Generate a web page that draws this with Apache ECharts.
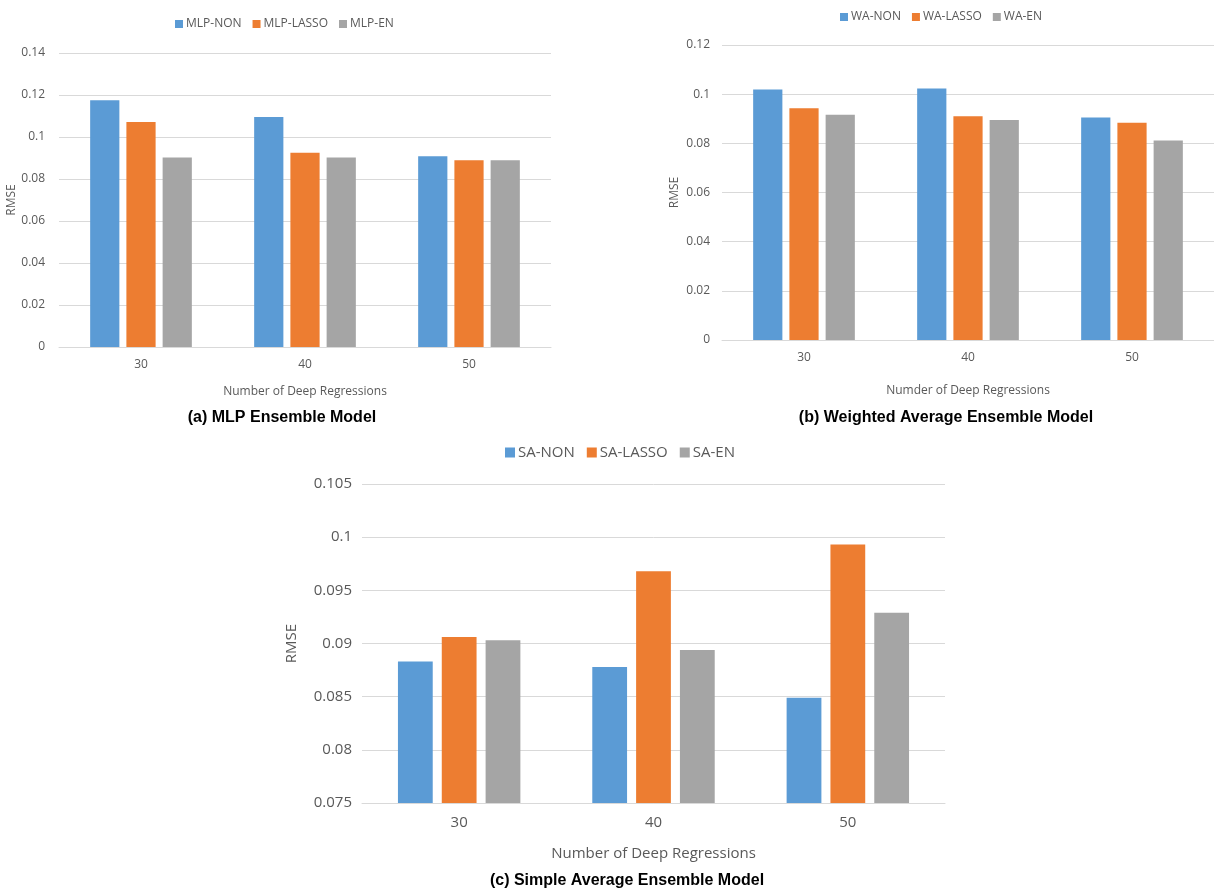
<!DOCTYPE html>
<html>
<head>
<meta charset="utf-8">
<script src="https://cdn.jsdelivr.net/npm/echarts@6/dist/echarts.min.js"></script>
<style>
  html, body { margin: 0; padding: 0; background: #fff; }
  #chart { width: 1214px; height: 893px; }
</style>
</head>
<body>
<div id="chart"></div>
<script>
// Number of deep regressions in the ensemble
const categories = ['30', '40', '50'];

// (a) MLP ensemble RMSE
const mlpNon   = [0.1175, 0.1095, 0.0908];
const mlpLasso = [0.1071, 0.0925, 0.0889];
const mlpEn    = [0.0902, 0.0902, 0.0889];

// (b) Weighted average ensemble RMSE
const waNon   = [0.1019, 0.1023, 0.0905];
const waLasso = [0.0943, 0.0910, 0.0884];
const waEn    = [0.0916, 0.0895, 0.0812];

// (c) Simple average ensemble RMSE
const saNon   = [0.0883, 0.0878, 0.0849];
const saLasso = [0.0906, 0.0968, 0.0993];
const saEn    = [0.0903, 0.0894, 0.0929];

const colors = ['#5B9BD5', '#ED7D31', '#A5A5A5'];
const txt = '#595959';
const grid = '#D9D9D9';
const font = '"Open Sans", sans-serif';
const titleFont = '"Liberation Sans", Arial, sans-serif';

function xAxis(gridIndex, name, size, margin, nameGap) {
  return {
    type: 'category', gridIndex, data: categories,
    axisLine: { lineStyle: { color: grid, width: 1 } },
    axisTick: { show: false },
    axisLabel: { color: txt, fontSize: size, fontFamily: font, margin },
    name, nameLocation: 'middle', nameGap,
    nameTextStyle: { color: txt, fontSize: size, fontFamily: font }
  };
}
function yAxis(gridIndex, min, max, interval, size, margin, nameGap) {
  return {
    type: 'value', gridIndex, min, max, interval,
    axisLine: { show: false }, axisTick: { show: false },
    splitLine: { lineStyle: { color: grid, width: 1 } },
    axisLabel: { color: txt, fontSize: size, fontFamily: font, margin },
    name: 'RMSE', nameLocation: 'middle', nameGap, nameRotate: 90,
    nameTextStyle: { color: txt, fontSize: size, fontFamily: font }
  };
}
function bars(names, data, idx, gap, catGap) {
  return names.map((n, i) => ({
    name: n, type: 'bar', xAxisIndex: idx, yAxisIndex: idx,
    data: data[i], barGap: gap, barCategoryGap: catGap,
    itemStyle: { color: colors[i] }, animation: false
  }));
}
function legend(names, left, top, size, icon, gap) {
  return {
    data: names, left, top, itemWidth: icon, itemHeight: icon, itemGap: gap,
    icon: 'rect',
    textStyle: { color: txt, fontSize: size, fontFamily: font, padding: [0, 0, 0, -2] }
  };
}
function title(text, left, top, size) {
  return {
    text, left, top, textAlign: 'center',
    textStyle: { color: '#000', fontSize: size, fontWeight: 'bold', fontFamily: titleFont }
  };
}

const namesA = ['MLP-NON', 'MLP-LASSO', 'MLP-EN'];
const namesB = ['WA-NON', 'WA-LASSO', 'WA-EN'];
const namesC = ['SA-NON', 'SA-LASSO', 'SA-EN'];

const chart = echarts.init(document.getElementById('chart'));
chart.setOption({
  backgroundColor: '#fff',
  animation: false,
  title: [
    title('(a) MLP Ensemble Model', 277, 405, 16),
    title('(b) Weighted Average Ensemble Model', 941, 405, 16),
    title('(c) Simple Average Ensemble Model', 622, 868, 16)
  ],
  legend: [
    legend(namesA, 170, 13, 12, 8, 11),
    legend(namesB, 835, 6, 12, 8, 11),
    legend(namesC, 500, 440, 15, 10, 12)
  ],
  grid: [
    { left: 59, top: 53, width: 492, height: 294 },
    { left: 722, top: 45, width: 496, height: 295 },
    { left: 362, top: 484, width: 583, height: 319 }
  ],
  xAxis: [
    xAxis(0, 'Number of Deep Regressions', 12, 12, 39),
    xAxis(1, 'Numder of Deep Regressions', 12, 12, 45),
    xAxis(2, 'Number of Deep Regressions', 15, 12, 43)
  ],
  yAxis: [
    yAxis(0, 0, 0.14, 0.02, 12, 14, 39),
    yAxis(1, 0, 0.12, 0.02, 12, 12, 41),
    yAxis(2, 0.075, 0.105, 0.005, 15, 10, 63)
  ],
  series: [
    ...bars(namesA, [mlpNon, mlpLasso, mlpEn], 0, '24%', '38%'),
    ...bars(namesB, [waNon, waLasso, waEn], 1, '24%', '38%'),
    ...bars(namesC, [saNon, saLasso, saEn], 2, '26%', '37%')
  ]
});
</script>
</body>
</html>
